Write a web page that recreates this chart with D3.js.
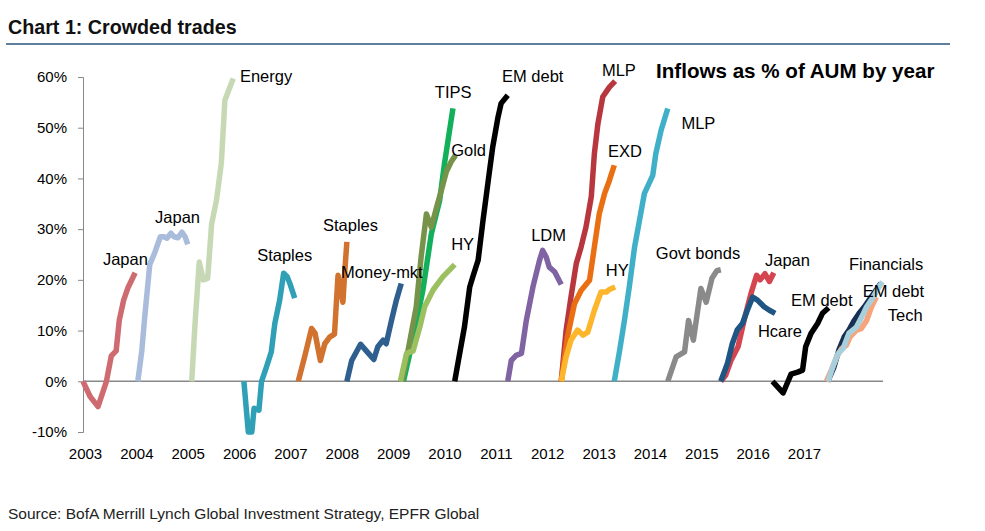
<!DOCTYPE html>
<style>
body { margin: 0; background: #fff; }
</style>
<svg width="985" height="531" font-family="'Liberation Sans', Arial, sans-serif"></svg>
<script src="https://d3js.org/d3.v7.min.js"></script>
<script>

// x = months since Jan 2003, y = inflows as % of AUM
const japan03 = [[0,0],[1.6,-3],[3.4,-5],[5.3,0],[6.4,5],[7.5,6],[8.2,12],[9.2,16],[10.2,18.5],[11.8,21.4]];
const japan04 = [[12.4,0],[13.3,6],[14.0,13],[15.1,23],[16.3,25.5],[17.5,28.5],[18.3,28.5],[19.0,28.2],[19.9,29.2],[20.6,28.5],[21.5,28.3],[22.4,29.4],[23.1,28.5],[23.7,27]];
const energy05 = [[24.6,0],[25.3,10.7],[26.3,23.5],[27.2,20],[28.2,20.3],[29.1,31],[30.2,35.7],[31.3,43],[32.1,55.4],[32.8,57],[34.0,59.7]];
const staples06 = [[36.4,0],[37.4,-10],[38.2,-10],[38.7,-5.3],[39.8,-5.7],[40.4,0],[41.5,2.8],[42.6,5.8],[43.4,11.4],[44.5,16],[45.4,21.3],[46.2,20.6],[46.8,19.3],[47.9,16.4]];
const staples07 = [[48.7,0],[50.2,5],[51.7,10.4],[52.5,9.5],[53.7,4.1],[54.7,7.4],[55.8,8.7],[56.9,9.3],[57.7,20.9],[58.8,15.6],[59.2,21.3],[59.7,27.5]];
const moneyMkt08 = [[59.7,0],[60.8,4.1],[62.8,7.3],[64.0,6.1],[65.8,4.3],[66.7,6.8],[67.9,8.1],[68.6,7.4],[69.8,12],[70.9,16],[72.0,19.3]];
const tips09 = [[72.5,0],[74.6,8],[76.9,18],[78.8,29],[80.7,35.7],[81.8,43],[83.7,53.8]];
const gold09 = [[72.2,0],[73.7,6.8],[75.4,14.7],[76.5,24.5],[77.7,33],[78.8,30.4],[79.9,34],[81.1,37.7],[82.2,41.3],[83.3,43.3],[84.3,44.6]];
const hy09 = [[71.8,0],[73.2,5.5],[74.7,6],[76.2,10.7],[77.3,14.7],[79.2,18],[81.4,20.6],[84.1,23]];
const emDebt10 = [[84.1,0],[85.2,5.4],[86.3,10.7],[87.5,18.6],[88.2,20.6],[89.4,23.9],[90.5,31.7],[91.6,39],[92.7,46.2],[93.9,52.1],[94.6,54.8],[96.1,56.4]];
const ldm11 = [[96.1,0],[96.9,4.1],[98.0,5.1],[99.2,5.5],[100.3,12],[101.8,18.6],[103.3,23.9],[104.0,25.8],[104.8,24.5],[105.5,22.5],[106.7,21.6],[108.2,19.1]];
const mlp12 = [[108.2,0],[109.3,10],[110.4,16.6],[111.6,23.2],[112.7,26.5],[113.8,30.4],[115,36.4],[115.7,44.9],[116.5,50.8],[117.6,56.1],[119.1,58],[120.4,59.2]];
const exd12 = [[108.2,0],[109.6,8.7],[111.2,15.3],[112.7,17.9],[114.6,19.9],[115.7,26.5],[116.8,33],[118,37],[119.1,39.6],[120.2,42.6]];
const hy12 = [[108.2,0],[109.3,4.8],[110.4,8.1],[111.9,10.1],[113.1,9.1],[114.2,9.7],[115.7,14],[117.2,17.6],[118.4,17.6],[119.1,18.1],[120.4,18.6]];
const mlp13 = [[120.2,0],[121.4,6],[122.5,12],[123.6,18.6],[124.8,26.5],[125.9,31.7],[127,37],[128.9,40.6],[129.6,44.9],[130.8,49.5],[132.3,53.8]];
const govt14 = [[132.3,0],[134.2,4.8],[136.1,5.8],[137.0,12],[138.1,8.1],[139.8,18.3],[141,15.6],[142.3,20.3],[143.4,21.8],[144.3,22]];
const japan15 = [[144.3,0],[145.4,1.2],[146.6,4.1],[148.2,6.8],[149.7,12.5],[151.2,17.5],[152.4,20.9],[153.2,20],[154.3,21.2],[155.3,19.7],[156.3,21.4]];
const hcare15 = [[144.3,0],[145.8,3.5],[146.9,7.4],[148,10.1],[149.2,11.4],[150.3,14],[151.5,16.6],[152.6,16],[154.1,14.7],[155.3,14],[156.6,13.4]];
const emDebt16 = [[156.0,0],[158.4,-2.3],[160.2,1.4],[161.7,1.8],[162.8,2.2],[163.5,6.8],[164.7,9.4],[166.2,11.4],[167.3,13.4],[168.7,14.5]];
const financials17 = [[168.5,0],[169.9,2.8],[171,6.1],[172.2,8.7],[173.3,10.1],[174.5,12],[175.6,13.4],[176.8,14.7],[178.3,16.6],[179.4,17.9],[180.5,19.3]];
const emDebt17 = [[168.2,0],[169.3,2.2],[170.5,4.8],[171.6,6.4],[172.7,7.1],[173.5,8.7],[175,10.1],[176.1,10.4],[177.3,12],[178.4,14.7],[179.5,16.6]];
const tech17 = [[168.6,0],[169.7,3],[170.8,5.4],[172,6.5],[173.3,9.5],[175,10.7],[176.2,12.7],[177.3,14.7],[178.8,16.6],[180.3,18.9],[180.9,19.6]];

// drawing order
const series = [japan03, japan04, energy05, staples06, staples07, moneyMkt08,
	tips09, gold09, hy09, emDebt10, ldm11, mlp12, exd12, hy12, mlp13, govt14,
	japan15, hcare15, emDebt16, financials17, emDebt17, tech17];
const colors = ['#cd6b70', '#aabcdb', '#c6d9b4', '#2fa0b6', '#d2722f', '#2f5f8e',
	'#12b05a', '#77934a', '#9cbf5f', '#000000', '#8063a3', '#b8373f', '#ea6f12', '#fdb52b', '#40b0c8', '#8a8a8a',
	'#d4454f', '#1f5582', '#000000', '#172f52', '#f7a37c', '#a8d0dc'];

// [text, month, pct] (left edge, vertical centre)
const labels = [
	['Japan', 4.5, 24.1], ['Japan', 16.3, 32.3], ['Energy', 35.5, 60.2],
	['Staples', 39.4, 24.9], ['Staples', 54.3, 30.8], ['Money-mkt', 58.4, 21.5],
	['TIPS', 79.6, 57], ['EM debt', 94.8, 60.2], ['Gold', 83.3, 45.6], ['HY', 83.3, 27],
	['LDM', 101.4, 28.8], ['MLP', 117.4, 61.3], ['EXD', 118.8, 45.4], ['HY', 118.3, 21.9],
	['MLP', 135.4, 50.9], ['Govt bonds', 129.6, 25.2], ['Japan', 154.3, 23.9],
	['Hcare', 152.7, 9.9], ['EM debt', 160.2, 16], ['Financials', 173.3, 23.1],
	['EM debt', 176.4, 17.8], ['Tech', 182.1, 13]
];

const years = d3.range(2003, 2018).map(String);
const yTicks = [-10, 0, 10, 20, 30, 40, 50, 60];

const svg = d3.select('svg');

const x = d3.scaleLinear().domain([0, 181]).range([83, 883]);
const y = d3.scaleLinear().domain([-10, 60]).range([432, 77]);
const xYears = d3.scalePoint().domain(years).range([85, 804]);

// header
svg.append('text')
	.attr('x', 8).attr('y', 34)
	.attr('font-size', 19.7).attr('font-weight', 'bold').attr('fill', '#111')
	.text('Chart 1: Crowded trades');
svg.append('line')
	.attr('x1', 6).attr('x2', 950).attr('y1', 44).attr('y2', 44)
	.attr('stroke', '#5f7f9f').attr('stroke-width', 2);

// y axis
const yAxis = svg.append('g')
	.attr('transform', `translate(${x(0)},0)`)
	.call(d3.axisLeft(y).tickValues(yTicks).tickFormat((d) => `${d}%`).tickSize(5).tickPadding(11));
yAxis.select('.domain').attr('stroke', '#888');
yAxis.selectAll('.tick line').attr('stroke', '#888');
yAxis.selectAll('.tick text').attr('font-size', 15).attr('fill', '#000').attr('font-family', null);

// zero line
svg.append('line')
	.attr('x1', x(0)).attr('x2', x(181)).attr('y1', y(0)).attr('y2', y(0))
	.attr('stroke', '#888').attr('stroke-width', 1.5);

// year labels
const xAxis = svg.append('g')
	.attr('transform', 'translate(0,445)')
	.call(d3.axisBottom(xYears).tickSize(0).tickPadding(3));
xAxis.select('.domain').remove();
xAxis.selectAll('.tick text').attr('font-size', 15).attr('fill', '#000').attr('font-family', null);

// lines
const line = d3.line().x((d) => x(d[0])).y((d) => y(d[1]));
svg.append('g').selectAll('path')
	.data(series)
	.join('path')
	.attr('d', line)
	.attr('fill', 'none')
	.attr('stroke', (d, i) => colors[i])
	.attr('stroke-width', 5.5)
	.attr('stroke-linejoin', 'round');

// series labels
svg.append('g').selectAll('text')
	.data(labels)
	.join('text')
	.attr('x', (d) => x(d[1]))
	.attr('y', (d) => y(d[2]))
	.attr('dy', '0.35em')
	.attr('font-size', 16.5)
	.attr('fill', '#000')
	.text((d) => d[0]);

svg.append('text')
	.attr('x', 656).attr('y', 78)
	.attr('font-size', 20.6).attr('font-weight', 'bold').attr('fill', '#000')
	.text('Inflows as % of AUM by year');

svg.append('text')
	.attr('x', 8).attr('y', 519)
	.attr('font-size', 15.5).attr('fill', '#222')
	.text('Source: BofA Merrill Lynch Global Investment Strategy, EPFR Global');

</script>
